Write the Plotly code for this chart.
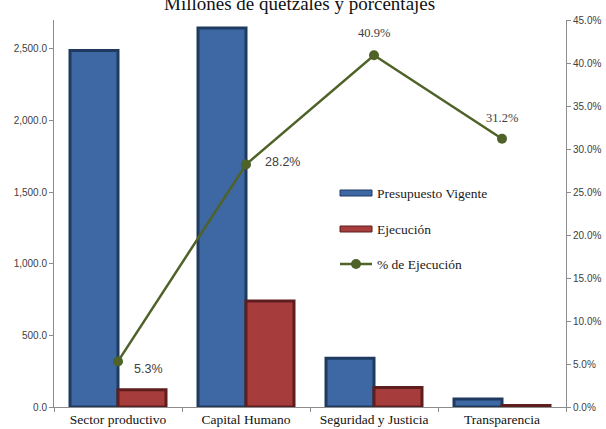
import plotly.graph_objects as go

categories = ["Sector productivo", "Capital Humano", "Seguridad y Justicia", "Transparencia"]
presupuesto = [2488, 2645, 340, 56]
ejecucion = [120, 740, 136, 10]
pct_ejec = [0.053, 0.282, 0.409, 0.312]
pct_labels = ["5.3%", "28.2%", "40.9%", "31.2%"]

blue = "#3D68A3"
blue_dark = "#1F3A60"
red = "#A63C3C"
red_dark = "#5E1E1E"
green = "#4F6228"

fig = go.Figure()
fig.add_trace(go.Bar(x=categories, y=presupuesto, name="Presupuesto Vigente",
                     marker=dict(color=blue, line=dict(color=blue_dark, width=3)),
                     showlegend=False))
fig.add_trace(go.Bar(x=categories, y=ejecucion, name="Ejecución",
                     marker=dict(color=red, line=dict(color=red_dark, width=3)),
                     showlegend=False))
fig.add_trace(go.Scatter(x=categories, y=pct_ejec, name="% de Ejecución", yaxis="y2",
                         mode="lines+markers",
                         line=dict(color=green, width=2.5),
                         marker=dict(color=green, size=10),
                         showlegend=False))

# data labels for the percentage line
offsets = [(30, -8), (36, 2), (0, 22), (0, 21)]
fams = ["Liberation Sans", "Liberation Sans", "Liberation Serif", "Liberation Serif"]
for c, v, t, (dx, dy), f in zip(categories, pct_ejec, pct_labels, offsets, fams):
    fig.add_annotation(x=c, y=v, xref="x", yref="y2", text=t, showarrow=False,
                       xshift=dx, yshift=dy, font=dict(family=f, size=12.5, color="#404040"))

# title (partially cut at the top as in the reference)
fig.add_annotation(x=0.48, y=1, xref="paper", yref="paper", text="Millones de quetzales y porcentajes",
                   showarrow=False, yanchor="middle", yshift=17,
                   font=dict(family="Liberation Serif", size=19, color="#111111"))

# manual legend
lx0, lx1 = (340 - 54) / 512, (372 - 54) / 512
def py(p):
    return (407 - p) / 387
fig.add_shape(type="rect", xref="paper", yref="paper", x0=lx0, x1=lx1,
              y0=py(196), y1=py(190), fillcolor=blue, line=dict(color=blue_dark, width=1))
fig.add_shape(type="rect", xref="paper", yref="paper", x0=lx0, x1=lx1,
              y0=py(232), y1=py(226), fillcolor=red, line=dict(color=red_dark, width=1))
fig.add_shape(type="line", xref="paper", yref="paper", x0=lx0, x1=lx1,
              y0=py(264), y1=py(264), line=dict(color=green, width=2.5))
fig.add_shape(type="circle", xref="paper", yref="paper",
              x0=(356 - 5 - 54) / 512, x1=(356 + 5 - 54) / 512,
              y0=py(269), y1=py(259), fillcolor=green, line=dict(color=green, width=0))
for text, ypix in [("Presupuesto Vigente", 193), ("Ejecución", 229), ("% de Ejecución", 264)]:
    fig.add_annotation(x=(375 - 54) / 512, y=py(ypix), xref="paper", yref="paper", text=text,
                       showarrow=False, xanchor="left", yanchor="middle",
                       font=dict(family="Liberation Serif", size=13.5, color="#1a1a1a"))

fig.update_layout(
    width=606, height=429,
    margin=dict(l=54, r=40, t=20, b=22),
    paper_bgcolor="white", plot_bgcolor="white",
    barmode="group", bargap=0.25, bargroupgap=0,
    xaxis=dict(showline=True, linecolor="#8c8c8c", linewidth=1, ticks="outside",
               tickson="boundaries", ticklen=4, tickcolor="#8c8c8c",
               tickfont=dict(family="Liberation Serif", size=13.5, color="#111111"),
               automargin=False, showgrid=False, zeroline=False),
    yaxis=dict(range=[0, 2700], tickvals=[0, 500, 1000, 1500, 2000, 2500], tickformat=",.1f",
               showline=True, linecolor="#8c8c8c", linewidth=1, ticks="outside", ticklen=4,
               tickcolor="#8c8c8c", showgrid=False, zeroline=False, automargin=False,
               tickfont=dict(family="Liberation Sans Narrow, Liberation Sans", size=10, color="#404040")),
    yaxis2=dict(range=[0, 0.45], dtick=0.05, tickformat=".1%", overlaying="y", side="right",
                showline=True, linecolor="#8c8c8c", linewidth=1, ticks="outside", ticklen=4,
                tickcolor="#8c8c8c", showgrid=False, zeroline=False, automargin=False,
                tickfont=dict(family="Liberation Sans Narrow, Liberation Sans", size=10, color="#404040")),
)

fig.write_html("out.html", config={"displayModeBar": False},
               post_script="document.body.style.margin='0';")
